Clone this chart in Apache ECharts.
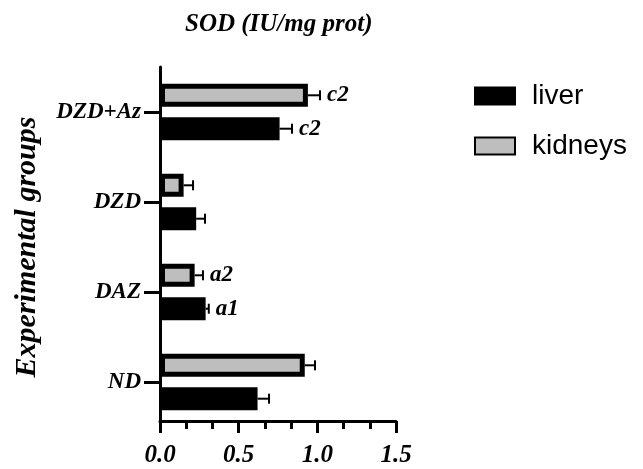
<!DOCTYPE html>
<html>
<head>
<meta charset="utf-8">
<script src="https://cdn.jsdelivr.net/npm/echarts@6/dist/echarts.min.js"></script>
<style>html,body{margin:0;padding:0;background:#fff}#c{width:643px;height:469px}</style>
</head>
<body>
<div id="c"></div>
<script>
var categories = ['ND', 'DAZ', 'DZD', 'DZD+Az'];
var liver = [0.62, 0.29, 0.23, 0.76];
var liverErr = [0.073, 0.02, 0.056, 0.079];
var liverLabels = ['', 'a1', '', 'c2'];
var kidneys = [0.92, 0.22, 0.15, 0.94];
var kidneysErr = [0.065, 0.053, 0.06, 0.077];
var kidneysLabels = ['', 'a2', '', 'c2'];
var xTicks = [0, 0.5, 1.0, 1.5];

var SERIF = '"Liberation Serif", "Times New Roman", serif';
var chart = echarts.init(document.getElementById('c'));

function errSeries(name, vals, errs, labels, dy) {
  return {
    type: 'custom',
    name: name,
    z: 5,
    encode: {x: [0, 2], y: 1},
    data: vals.map(function (v, i) { return [v, i, v + errs[i]]; }),
    renderItem: function (params, api) {
      var p0 = api.coord([api.value(0), api.value(1)]);
      var p1 = api.coord([api.value(2), api.value(1)]);
      var y = p0[1] + dy;
      var children = [
        {type: 'line', shape: {x1: p0[0], y1: y, x2: p1[0], y2: y}, style: {stroke: '#000', lineWidth: 2}},
        {type: 'line', shape: {x1: p1[0], y1: y - 5, x2: p1[0], y2: y + 5}, style: {stroke: '#000', lineWidth: 2}}
      ];
      var lab = labels[params.dataIndex];
      if (lab) {
        children.push({type: 'text', style: {text: lab, x: p1[0] + 7, y: y, verticalAlign: 'middle', align: 'left',
          font: 'italic bold 23px ' + SERIF, fill: '#000'}});
      }
      return {type: 'group', children: children};
    }
  };
}

chart.setOption({
  animation: false,
  backgroundColor: '#fff',
  title: {
    text: 'SOD (IU/mg prot)', left: 180, top: 7,
    textStyle: {fontFamily: SERIF, fontStyle: 'italic', fontWeight: 'bold', fontSize: 25, color: '#000'}
  },
  legend: {
    orient: 'vertical', left: 474, top: 82, padding: 0, itemWidth: 40, itemHeight: 17, itemGap: 22,
    icon: 'rect',
    data: ['liver', 'kidneys'],
    textStyle: {fontFamily: '"Liberation Sans", Arial, sans-serif', fontSize: 28, color: '#000', padding: [0, 0, 0, 12]}
  },
  grid: {left: 160, right: 247, top: 67, bottom: 42},
  xAxis: {
    type: 'value', min: 0, max: 1.5, interval: 0.5, offset: -6,
    axisLine: {show: true, lineStyle: {color: '#000', width: 3}},
    axisTick: {show: true, length: 12, lineStyle: {color: '#000', width: 3}},
    minorTick: {show: true, splitNumber: 3, length: 8, lineStyle: {color: '#000', width: 3}},
    splitLine: {show: false},
    axisLabel: {
      margin: 22, color: '#000', fontFamily: SERIF, fontStyle: 'italic', fontWeight: 'bold', fontSize: 25,
      formatter: function (v) { return xTicks.indexOf(v) >= 0 ? v.toFixed(1) : ''; }
    }
  },
  yAxis: {
    type: 'category', data: categories,
    name: 'Experimental groups', nameLocation: 'middle', nameGap: 118, nameRotate: 90,
    nameTextStyle: {fontFamily: SERIF, fontStyle: 'italic', fontWeight: 'bold', fontSize: 30, color: '#000'},
    axisLine: {show: true, lineStyle: {color: '#000', width: 3}},
    axisTick: {show: true, alignWithLabel: true, length: 16, lineStyle: {color: '#000', width: 3}},
    axisLabel: {margin: 19, color: '#000', fontFamily: SERIF, fontStyle: 'italic', fontWeight: 'bold', fontSize: 23}
  },
  series: [
    {
      name: 'kidneys', type: 'bar', data: kidneys, barWidth: 23, barGap: '45%',
      itemStyle: {color: '#bebebe', borderColor: '#000', borderWidth: 5}
    },
    {
      name: 'liver', type: 'bar', data: liver, barWidth: 23, barGap: '45%',
      itemStyle: {color: '#000', borderColor: '#000', borderWidth: 4}
    },
    errSeries('liverErr', liver, liverErr, liverLabels, 16.7),
    errSeries('kidneysErr', kidneys, kidneysErr, kidneysLabels, -16.7)
  ]
});
</script>
</body>
</html>
